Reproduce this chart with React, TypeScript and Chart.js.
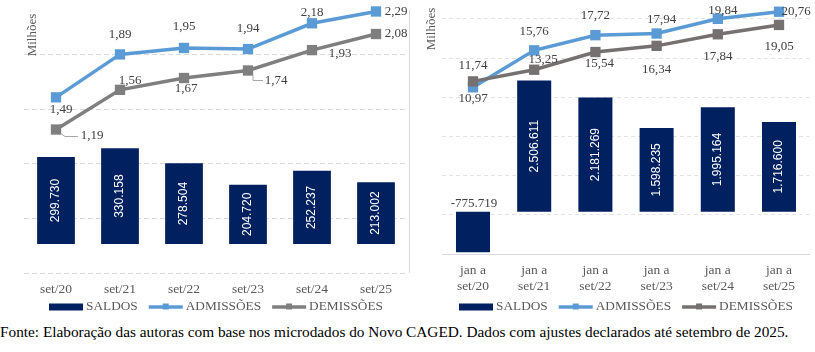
import React, { useEffect, useRef } from 'react';
import { Chart, registerables } from 'chart.js';

Chart.register(...registerables);

// ---------- data ----------
const leftCategories = ['set/20', 'set/21', 'set/22', 'set/23', 'set/24', 'set/25'];
const leftSaldos = [299730, 330158, 278504, 204720, 252237, 213002];
const leftAdmissoes = [1.49, 1.89, 1.95, 1.94, 2.18, 2.29];
const leftDemissoes = [1.19, 1.56, 1.67, 1.74, 1.93, 2.08];

const rightCategories = [
  ['jan a', 'set/20'],
  ['jan a', 'set/21'],
  ['jan a', 'set/22'],
  ['jan a', 'set/23'],
  ['jan a', 'set/24'],
  ['jan a', 'set/25'],
];
const rightSaldos = [-775719, 2506611, 2181269, 1598235, 1995164, 1716600];
const rightAdmissoes = [10.97, 15.76, 17.72, 17.94, 19.84, 20.76];
const rightDemissoes = [11.74, 13.25, 15.54, 16.34, 17.84, 19.05];

const legendLabels = ['SALDOS', 'ADMISSÕES', 'DEMISSÕES'];
const axisTitle = 'Milhões';
const sourceNote =
  'Fonte: Elaboração das autoras com base nos microdados do Novo CAGED. Dados com ajustes declarados até setembro de 2025.';

// ---------- style ----------
const SERIF = '"Liberation Serif", "Times New Roman", serif';
const SANS = '"Liberation Sans", Arial, sans-serif';
const NAVY = '#002060';
const BLUE = '#5B9BD5';

// label placement offsets (dx, dy) relative to each point
const leftAdmOffsets = [[5, 12], [0, -20], [0, -21], [0, -20], [0, -11], [20, 0]];
const leftDemOffsets = [[36, 6], [10, -9], [2, 11], [28, 10], [28, 3], [20, 0]];
const leftDemLeaders: (number[][] | null)[] = [
  [[5, 4], [9, 7], [22, 7]],
  null,
  null,
  [[5, 5], [5, 10], [15, 10]],
  null,
  null,
];
const rightAdmOffsets = [[0, 11], [0, -19], [0, -20], [5, -14], [5, -8], [17, 0]];
const rightDemOffsets = [[0, -16], [9, -10], [4, 12], [0, 24], [0, 22], [0, 22]];

const fmtInt = (v: number) => {
  const s = String(Math.abs(Math.round(v))).replace(/\B(?=(\d{3})+(?!\d))/g, '.');
  return (v < 0 ? '-' : '') + s;
};
const fmtDec = (v: number) => v.toFixed(2).replace('.', ',');

type Side = {
  categories: any[];
  saldos: number[];
  adm: number[];
  dem: number[];
  yMin: number;
  yMax: number;
  y1Min: number;
  y1Max: number;
  gridMax: number;
  gridBottom: boolean;
  gridColor: string;
  gridDash: number[];
  padLeft: number;
  padRight: number;
  padBottom: number;
  xHeight: number;
  tickPad: number;
  barPct: number;
  grayColor: string;
  admOffsets: number[][];
  demOffsets: number[][];
  demLeaders: (number[][] | null)[];
  titleX: number;
  titleY: number;
  legendY: number;
  xBorder: boolean;
  frameRight: boolean;
  width: number;
  height: number;
};

function makeDecor(s: Side) {
  return {
    id: 'decor',
    afterDatasetsDraw(chart: any) {
      const ctx = chart.ctx as CanvasRenderingContext2D;
      // bar labels
      const barMeta = chart.getDatasetMeta(0);
      barMeta.data.forEach((el: any, i: number) => {
        const v = s.saldos[i];
        const txt = fmtInt(v);
        ctx.save();
        if (v >= 0) {
          ctx.translate(el.x, (el.y + el.base) / 2);
          ctx.rotate(-Math.PI / 2);
          ctx.fillStyle = '#ffffff';
          ctx.font = `12px ${SANS}`;
          ctx.textAlign = 'center';
          ctx.textBaseline = 'middle';
          ctx.fillText(txt, 0, 0);
        } else {
          ctx.fillStyle = '#404040';
          ctx.font = `13px ${SERIF}`;
          ctx.textAlign = 'center';
          ctx.textBaseline = 'middle';
          ctx.fillText(txt, el.x + 1, el.base - 8.5);
        }
        ctx.restore();
      });
      // line labels
      const drawLabels = (dsIndex: number, values: number[], offs: number[][], leaders?: (number[][] | null)[]) => {
        const meta = chart.getDatasetMeta(dsIndex);
        meta.data.forEach((el: any, i: number) => {
          ctx.save();
          const lead = leaders ? leaders[i] : null;
          if (lead) {
            ctx.strokeStyle = '#a6a6a6';
            ctx.lineWidth = 1;
            ctx.beginPath();
            lead.forEach((p, k) => {
              if (k === 0) ctx.moveTo(el.x + p[0], el.y + p[1]);
              else ctx.lineTo(el.x + p[0], el.y + p[1]);
            });
            ctx.stroke();
          }
          ctx.fillStyle = '#404040';
          ctx.font = `13px ${SERIF}`;
          ctx.textAlign = 'center';
          ctx.textBaseline = 'middle';
          ctx.fillText(fmtDec(values[i]), el.x + offs[i][0], el.y + offs[i][1]);
          ctx.restore();
        });
      };
      drawLabels(1, s.adm, s.admOffsets);
      drawLabels(2, s.dem, s.demOffsets, s.demLeaders);
    },
    afterDraw(chart: any) {
      const ctx = chart.ctx as CanvasRenderingContext2D;
      const area = chart.chartArea;
      // axis title
      ctx.save();
      ctx.translate(s.titleX, s.titleY);
      ctx.rotate(-Math.PI / 2);
      ctx.fillStyle = '#595959';
      ctx.font = `13px ${SERIF}`;
      ctx.textAlign = 'center';
      ctx.textBaseline = 'middle';
      ctx.fillText(axisTitle, 0, 0);
      ctx.restore();
      // right frame line
      if (s.frameRight) {
        ctx.save();
        ctx.strokeStyle = '#d9d9d9';
        ctx.lineWidth = 1;
        ctx.beginPath();
        ctx.moveTo(Math.round(area.right) + 1.5, 10);
        ctx.lineTo(Math.round(area.right) + 1.5, area.bottom);
        ctx.stroke();
        ctx.restore();
      }
      // legend
      ctx.save();
      ctx.font = `13.3px ${SERIF}`;
      const colors = [NAVY, BLUE, s.grayColor];
      const sym = 34;
      const gap = 3;
      const sep = 11;
      const widths = legendLabels.map((t) => ctx.measureText(t).width);
      const total = widths.reduce((a, w) => a + sym + gap + w, 0) + sep * (legendLabels.length - 1);
      let x = (area.left + area.right) / 2 - total / 2;
      const y = s.legendY;
      legendLabels.forEach((t, i) => {
        ctx.fillStyle = colors[i];
        if (i === 0) {
          ctx.fillRect(x, y - 3.5, sym, 7);
        } else {
          ctx.strokeStyle = colors[i];
          ctx.lineWidth = 3.5;
          ctx.beginPath();
          ctx.moveTo(x, y);
          ctx.lineTo(x + sym, y);
          ctx.stroke();
          ctx.fillRect(x + sym / 2 - 3, y - 3.5, 6, 6);
        }
        ctx.fillStyle = '#595959';
        ctx.textAlign = 'left';
        ctx.textBaseline = 'middle';
        ctx.fillText(t, x + sym + gap, y);
        x += sym + gap + widths[i] + sep;
      });
      ctx.restore();
    },
  };
}

function makeConfig(s: Side): any {
  return {
    type: 'bar',
    data: {
      labels: s.categories,
      datasets: [
        {
          type: 'bar',
          label: legendLabels[0],
          data: s.saldos,
          backgroundColor: NAVY,
          yAxisID: 'y',
          order: 3,
          barPercentage: s.barPct,
          categoryPercentage: 1,
        },
        {
          type: 'line',
          label: legendLabels[1],
          data: s.adm,
          borderColor: BLUE,
          backgroundColor: BLUE,
          borderWidth: 3.5,
          pointStyle: 'rect',
          pointRadius: 7.3,
          pointBorderWidth: 0,
          yAxisID: 'y1',
          order: 2,
          clip: false,
          tension: 0,
        },
        {
          type: 'line',
          label: legendLabels[2],
          data: s.dem,
          borderColor: s.grayColor,
          backgroundColor: s.grayColor,
          borderWidth: 3.5,
          pointStyle: 'rect',
          pointRadius: 7.3,
          pointBorderWidth: 0,
          yAxisID: 'y1',
          order: 1,
          clip: false,
          tension: 0,
        },
      ],
    },
    options: {
      responsive: false,
      animation: false,
      layout: {
        autoPadding: false,
        padding: { left: s.padLeft, right: s.padRight, top: 0, bottom: s.padBottom },
      },
      plugins: { legend: { display: false }, tooltip: { enabled: false } },
      scales: {
        x: {
          grid: { display: false },
          border: { display: s.xBorder, color: '#d9d9d9', width: 1 },
          ticks: {
            font: { family: SERIF, size: 13.5, lineHeight: 1.17 },
            color: '#595959',
            padding: s.tickPad,
            maxRotation: 0,
            autoSkip: false,
          },
          afterFit: (sc: any) => {
            sc.height = s.xHeight;
          },
        },
        y: { display: false, min: s.yMin, max: s.yMax },
        y1: { display: false, position: 'right', min: s.y1Min, max: s.y1Max },
        g: {
          type: 'linear',
          position: 'left',
          min: 0,
          max: s.gridMax,
          ticks: { display: false, stepSize: 1 },
          border: { display: false, dash: s.gridDash },
          grid: {
            drawTicks: false,
            lineWidth: 1,
            color: (c: any) => {
              const v = c.tick ? c.tick.value : -1;
              const ok = Number.isInteger(v) && v < s.gridMax - 0.01 && (v > 0 || s.gridBottom);
              return ok ? s.gridColor : 'rgba(0,0,0,0)';
            },
          },
        },
      },
    },
    plugins: [makeDecor(s)],
  };
}

const leftSide: Side = {
  categories: leftCategories,
  saldos: leftSaldos,
  adm: leftAdmissoes,
  dem: leftDemissoes,
  yMin: -100000,
  yMax: 841379,
  y1Min: -0.147,
  y1Max: 2.397,
  gridMax: 5,
  gridBottom: true,
  gridColor: '#d9d9d9',
  gridDash: [5, 3],
  padLeft: 24,
  padRight: 4,
  padBottom: 19,
  xHeight: 30,
  tickPad: 1,
  barPct: 0.59,
  grayColor: '#7F7F7F',
  admOffsets: leftAdmOffsets,
  demOffsets: leftDemOffsets,
  demLeaders: leftDemLeaders,
  titleX: 33,
  titleY: 35,
  legendY: 307,
  xBorder: false,
  frameRight: true,
  width: 412,
  height: 322,
};

const rightSide: Side = {
  categories: rightCategories,
  saldos: rightSaldos,
  adm: rightAdmissoes,
  dem: rightDemissoes,
  yMin: -808800,
  yMax: 4047800,
  y1Min: -10.62,
  y1Max: 22.28,
  gridMax: 6.485,
  gridBottom: false,
  gridColor: '#e3e3e3',
  gridDash: [4, 3],
  padLeft: 30.4,
  padRight: 5.4,
  padBottom: 23,
  xHeight: 45,
  tickPad: 1,
  barPct: 0.556,
  grayColor: '#767171',
  admOffsets: rightAdmOffsets,
  demOffsets: rightDemOffsets,
  demLeaders: [null, null, null, null, null, null],
  titleX: 20,
  titleY: 29,
  legendY: 307,
  xBorder: true,
  frameRight: false,
  width: 403,
  height: 322,
};

function ChartCanvas({ side, left }: { side: Side; left: number }) {
  const ref = useRef<HTMLCanvasElement | null>(null);
  useEffect(() => {
    if (!ref.current) return;
    const chart = new Chart(ref.current, makeConfig(side));
    return () => chart.destroy();
  }, [side]);
  return (
    <canvas
      ref={ref}
      width={side.width}
      height={side.height}
      style={{ position: 'absolute', left, top: 0, width: side.width, height: side.height }}
    />
  );
}

export default function App() {
  return (
    <div
      style={{
        position: 'absolute',
        left: 0,
        top: 0,
        width: 815,
        height: 352,
        background: '#ffffff',
        overflow: 'hidden',
      }}
    >
      <ChartCanvas side={leftSide} left={0} />
      <ChartCanvas side={rightSide} left={412} />
      <div
        style={{
          position: 'absolute',
          left: 0,
          top: 325,
          fontFamily: SERIF,
          fontSize: 15.3,
          lineHeight: '14px',
          color: '#000000',
          whiteSpace: 'nowrap',
        }}
      >
        {sourceNote}
      </div>
    </div>
  );
}
